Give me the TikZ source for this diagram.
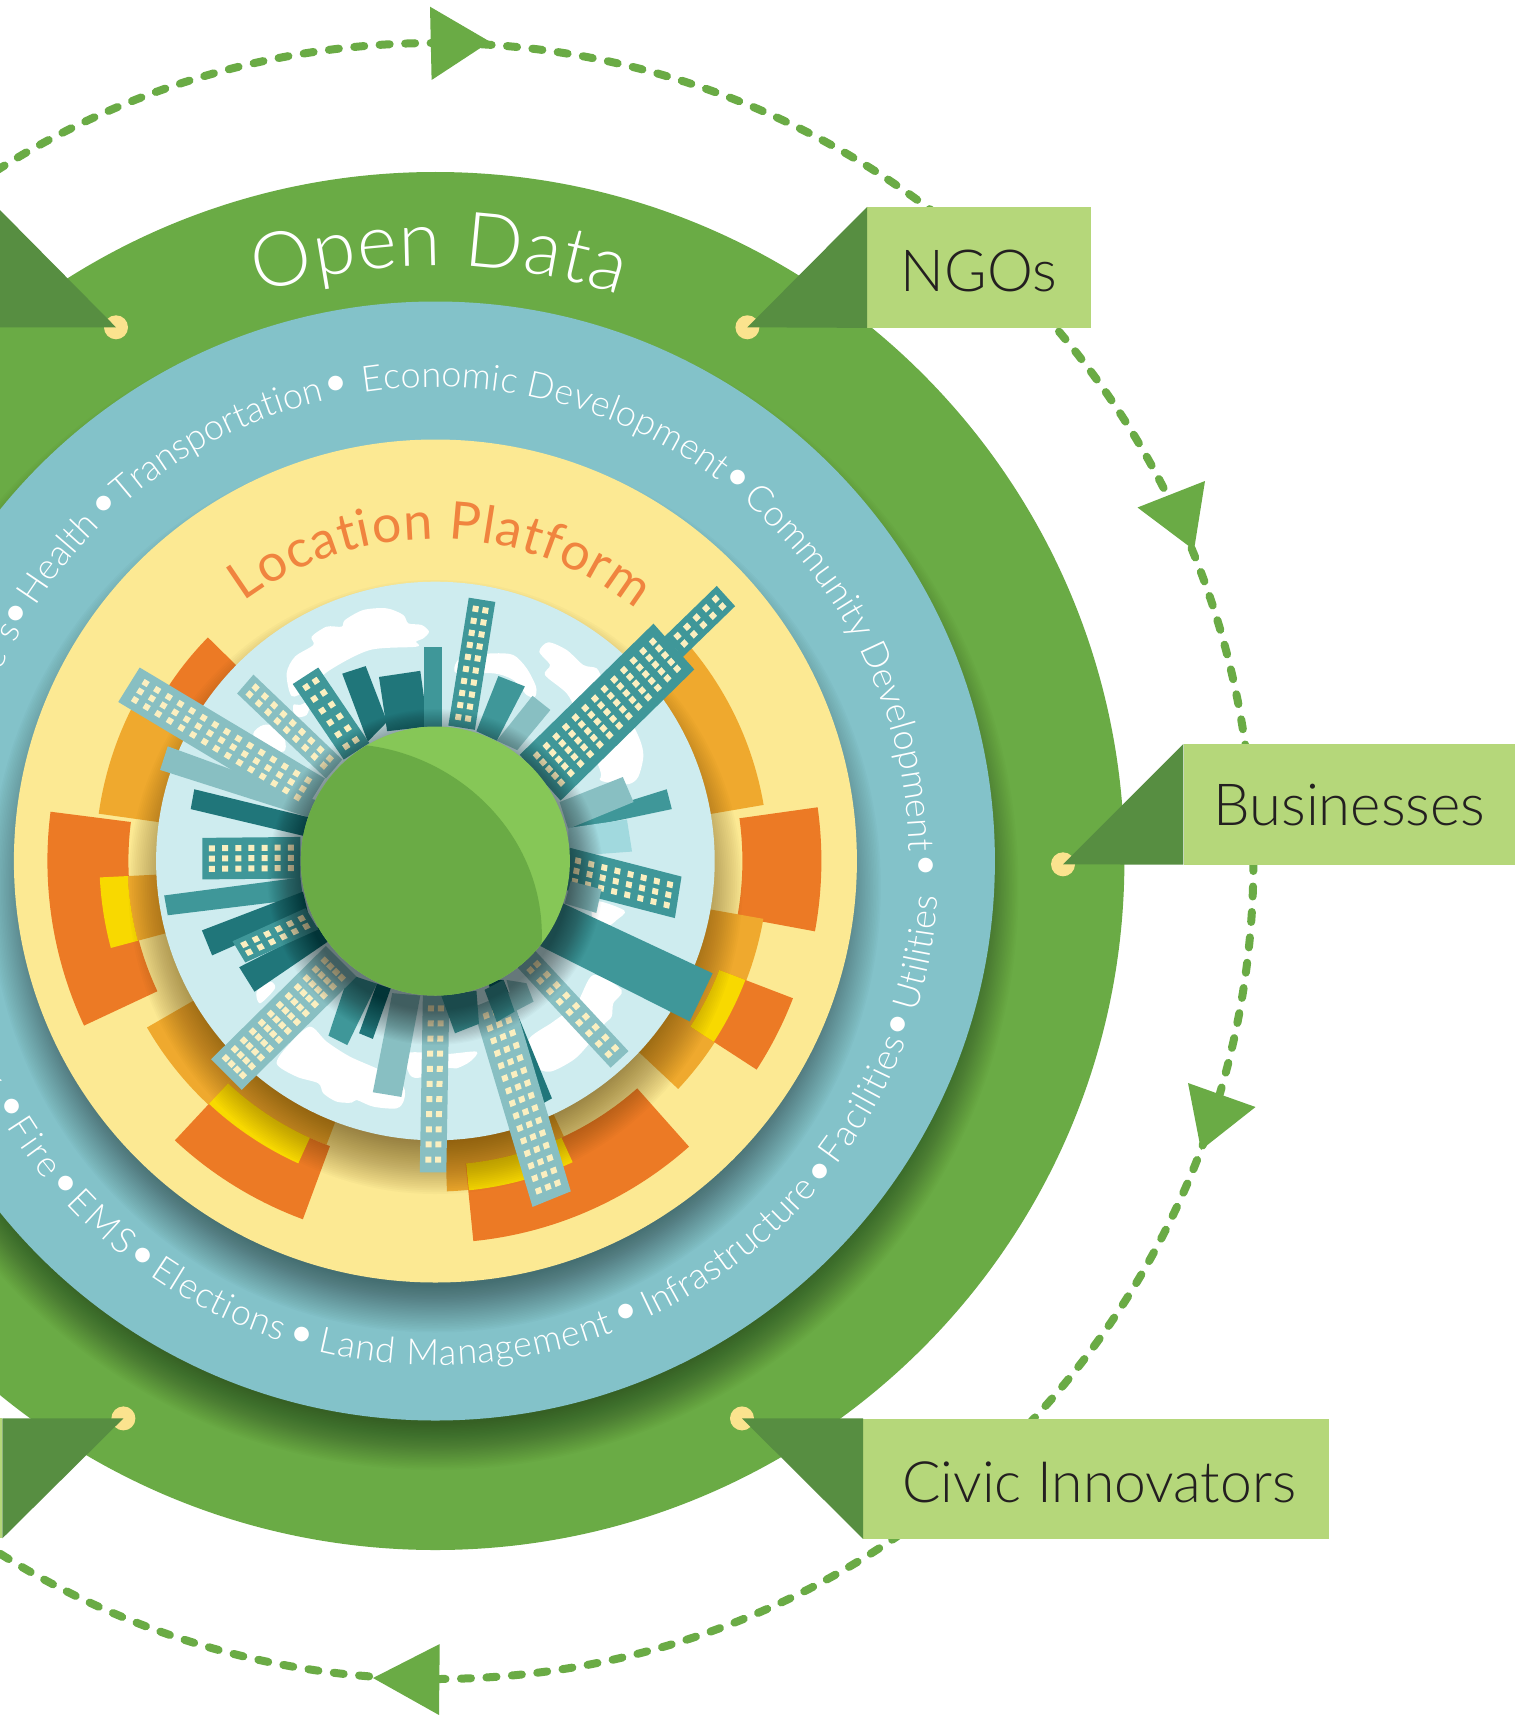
\documentclass[tikz,border=0pt]{standalone}
\usepackage{fontspec}
\setmainfont{Lato Light}
\newfontfamily\lreg{Lato}
\usetikzlibrary{decorations.text,calc}
\definecolor{ringg}{HTML}{6AAB45}
\definecolor{boxg}{HTML}{B5D77A}
\definecolor{darkg}{HTML}{578E41}
\definecolor{blue1}{HTML}{83C2C9}
\definecolor{yel1}{HTML}{FCE993}
\definecolor{dotc}{HTML}{FBE38E}
\definecolor{sky1}{HTML}{CEECEF}
\definecolor{plant}{HTML}{86C757}
\definecolor{org}{HTML}{EC7A25}
\definecolor{amb}{HTML}{EFA92E}
\definecolor{gold}{HTML}{F8D900}
\definecolor{orgtxt}{HTML}{F0843F}
\definecolor{tdk}{HTML}{20767A}
\definecolor{tmid}{HTML}{3F9799}
\definecolor{tlt}{HTML}{88BFC2}
\definecolor{tpale}{HTML}{A1D9DE}
\definecolor{winc}{HTML}{FBEFC0}
\definecolor{inkc}{HTML}{231F20}
\definecolor{shbrown}{HTML}{4A2E00}
\tikzset{
 ringdash/.style={draw=ringg,line width=8pt,line cap=round,dash pattern=on 10pt off 15.5pt},
 headg/.style={fill=ringg},
 tailg/.style={fill=darkg},
 lblbox/.style={fill=boxg,inner sep=0pt,anchor=north west,text=inkc,font=\fontsize{58}{62}\selectfont},
 buldot/.style={inner sep=0pt,text=white,yshift=-5pt,font=\fontsize{50}{50}\selectfont},
 fragtxt/.style={inner sep=0pt,text=white,font=\fontsize{36}{36}\selectfont},
 zoomone/.style={shift={(30,500)},xscale=.5102,yscale=.4719},
 cloudw/.style={fill=white}
}
% r, dy, spread, colour, opacity
\newcommand\softshadow[5]{\foreach \kk in {0,...,29}{\fill[#4,opacity=#5] (0,-#2) circle[radius=#1+#3-\kk*#3/15];}}
% colour r0 r1 a0 a1
\newcommand\seg[5]{\fill[#1] (#4:#2) arc[start angle=#4,end angle=#5,radius=#2] -- (#5:#3) arc[start angle=#5,end angle=#4,radius=#3] -- cycle;}
% radius a0 a1 size colour text
\newcommand\arctext[6]{\path[decorate,decoration={text along path,text align={fit to path},text={|\fontsize{#4}{#4}\selectfont\color{#5}|#6}}] (#2:#1) arc[start angle=#2,end angle=#3,radius=#1];}
% ax ay bx by dx dy colour across along  (zoom coordinates)
\newcommand\Tw[9]{%
 \pgfmathsetmacro\Ax{30+#1*.5102}\pgfmathsetmacro\Ay{500+#2*.4719}%
 \pgfmathsetmacro\Ux{(#3-#1)*.5102}\pgfmathsetmacro\Uy{(#4-#2)*.4719}%
 \pgfmathsetmacro\Vx{(#5-#1)*.5102}\pgfmathsetmacro\Vy{(#6-#2)*.4719}%
 \fill[#7] (\Ax,\Ay) -- ++(\Ux,\Uy) -- ++(\Vx,\Vy) -- ++(-\Ux,-\Uy) -- cycle;
 \pgfmathsetmacro\du{3/veclen(\Ux,\Uy)}\pgfmathsetmacro\dv{3/veclen(\Vx,\Vy)}%
 \foreach \ii in {1,...,#8}{\foreach \jj in {1,...,#9}{%
  \pgfmathsetmacro\uu{.13+.74*(\ii-.5)/#8}\pgfmathsetmacro\vv{.03+.94*(\jj-.5)/#9}%
  \pgfmathsetmacro\Pa{\Ax+(\uu-\du)*\Ux+(\vv-\dv)*\Vx}\pgfmathsetmacro\Qa{\Ay+(\uu-\du)*\Uy+(\vv-\dv)*\Vy}%
  \pgfmathsetmacro\Pb{\Ax+(\uu+\du)*\Ux+(\vv-\dv)*\Vx}\pgfmathsetmacro\Qb{\Ay+(\uu+\du)*\Uy+(\vv-\dv)*\Vy}%
  \pgfmathsetmacro\Pc{\Ax+(\uu+\du)*\Ux+(\vv+\dv)*\Vx}\pgfmathsetmacro\Qc{\Ay+(\uu+\du)*\Uy+(\vv+\dv)*\Vy}%
  \pgfmathsetmacro\Pd{\Ax+(\uu-\du)*\Ux+(\vv+\dv)*\Vx}\pgfmathsetmacro\Qd{\Ay+(\uu-\du)*\Uy+(\vv+\dv)*\Vy}%
  \fill[winc] (\Pa,\Qa)--(\Pb,\Qb)--(\Pc,\Qc)--(\Pd,\Qd)--cycle;
 }}%
}
\begin{document}
\begin{tikzpicture}[x=1pt,y=-1pt]
\clip (0,0) rectangle (1529,1715);
\fill[white] (0,0) rectangle (1529,1715);
\coordinate (C) at (435.4,861);
% dashed ring and its arrowheads
\draw[ringdash] (C) circle[radius=818];
\fill[headg] (430,6.7)--(431.6,80)--(490,41.7)--cycle;
\fill[headg] (1137.5,507.5)--(1205,481)--(1194,550)--cycle;
\fill[headg] (1188,1083)--(1255.5,1107)--(1201,1150)--cycle;
\fill[headg] (439.7,1644)--(439,1715)--(373,1678)--cycle;

\begin{scope}[shift={(C)},y=1pt]
 \fill[ringg] (0,0) circle[radius=689];
 \softshadow{559}{26}{24}{black}{.015}
 \fill[blue1] (0,0) circle[radius=559.5];
 \softshadow{421.5}{26}{24}{black}{.017}
 \fill[yel1] (0,0) circle[radius=421.5];
 % arcs
 \seg{amb}{270}{333}{9.7}{41.5}
 \seg{org}{307}{386}{8}{-10.5}
 \seg{amb}{270}{333}{-10}{-43.2}
 \seg{org}{304}{383}{-33}{-21}
 \seg{gold}{304}{332}{-33}{-21}
 \seg{amb}{270}{304}{-88}{-65}
 \seg{amb}{270}{330.5}{-88}{-84.2}
 \seg{org}{304}{382}{-84.3}{-48.4}
 \seg{gold}{304}{331}{-84.2}{-65.5}
 \seg{amb}{270}{333}{210}{227}
 \seg{amb}{270}{304}{227}{249}
 \seg{org}{304}{382}{227}{249.7}
 \seg{gold}{304}{332}{227}{245.6}
 \seg{org}{307}{388}{172.7}{205.1}
 \seg{amb}{270}{308}{182.8}{195}
 \seg{gold}{308}{336}{182.8}{195}
 \seg{amb}{270}{340}{150}{172}
 \seg{org}{270}{319}{135.5}{150}
 \softshadow{279}{26}{28}{shbrown}{.025}
 \fill[sky1] (0,0) circle[radius=279.3];
\end{scope}

% clouds
\begin{scope}
 \clip (C) circle[radius=279];
 \begin{scope}[shift={(230,590)},scale=.3333]
  \fill[cloudw] plot[smooth cycle,tension=.5] coordinates {(185,318)(170,250)(195,200)(250,165)(245,140)(290,110)(335,110)(345,90)(400,60)(470,55)(520,75)(535,100)(575,105)(597,125)(580,145)(558,155)(560,170)(420,180)(300,240)(230,300)};
  \fill[cloudw] plot[smooth cycle,tension=.5] coordinates {(70,430)(100,405)(140,410)(165,450)(160,485)(90,470)};
  \fill[cloudw] plot[smooth cycle,tension=.5] coordinates {(190,345)(210,345)(240,335)(230,375)(195,380)};
 \end{scope}
 \begin{scope}[shift={(500,580)},scale=.3333]
  \fill[cloudw] plot[smooth cycle,tension=.5] coordinates {(118,215)(145,187)(200,210)(250,255)(290,265)(310,300)(380,400)(420,480)(430,530)(415,590)(388,612)(340,610)(300,600)(300,570)(230,400)(200,340)(135,285)(150,255)};
  \fill[cloudw] plot[smooth cycle,tension=.5] coordinates {(-130,245)(-100,228)(-20,220)(40,225)(80,265)(108,320)(105,350)(80,345)(40,300)(-20,280)(-130,280)};
 \end{scope}
 \begin{scope}[shift={(240,960)},scale=.3333]
  \fill[cloudw] plot[smooth cycle,tension=.5] coordinates {(50,95)(60,130)(105,85)(90,65)};
  \fill[cloudw] plot[smooth cycle,tension=.5] coordinates {(110,310)(170,350)(235,370)(250,400)(290,425)(335,428)(350,420)(400,440)(470,445)(492,420)(490,380)(430,335)(330,290)(260,245)(210,200)(150,250)};
  \fill[cloudw] plot[smooth cycle,tension=.5] coordinates {(500,280)(510,345)(545,352)(620,325)(650,325)(690,305)(710,275)(620,282)};
  \fill[cloudw] plot[smooth cycle,tension=.5] coordinates {(1060,45)(1145,90)(1120,130)(1115,170)(1090,195)(1040,260)(1000,300)(930,335)(880,315)(865,240)(940,185)(1010,130)};
 \end{scope}
 \begin{scope}[zoomone]
  \fill[cloudw] plot[smooth cycle,tension=.5] coordinates {(1105,850)(1165,870)(1150,890)(1130,905)(1105,900)};
 \end{scope}
\end{scope}

% plain towers
\begin{scope}[zoomone]
 \fill[tdk] (612,368)--(658,352)--(700,470)--(662,512)--cycle;
 \fill[tdk] (684,375)--(765,362)--(780,480)--(700,490)--cycle;
 \fill[tmid] (772,312)--(808,312)--(808,480)--(772,480)--cycle;
 \fill[tlt] (985,415)--(1020,445)--(955,530)--(915,510)--cycle;
 \fill[tmid] (918,373)--(970,395)--(915,510)--(875,490)--cycle;
 \fill[tmid] (1248,613)--(1258,655)--(1060,700)--(1050,680)--cycle;
 \fill[tlt] (1162,587)--(1183,640)--(1055,697)--(1038,640)--cycle;
 \fill[tpale] (1170,677)--(1180,745)--(1055,755)--(1055,695)--cycle;
 \fill[tlt] (270,522)--(570,640)--(545,672)--(255,572)--cycle;
 \fill[tdk] (322,613)--(545,672)--(537,712)--(315,655)--cycle;
 \fill[tmid] (263,838)--(530,800)--(535,845)--(270,880)--cycle;
 \fill[tdk] (337,912)--(535,830)--(545,875)--(357,965)--cycle;
 \fill[tdk] (410,990)--(565,905)--(585,935)--(440,1042)--cycle;
 \fill[tmid] (625,1005)--(680,1025)--(622,1155)--(585,1135)--cycle;
 \fill[tdk] (680,1025)--(707,1035)--(672,1142)--(645,1130)--cycle;
 \fill[tlt] (710,1045)--(765,1050)--(728,1265)--(672,1255)--cycle;
 \fill[tdk] (895,1017)--(928,1017)--(1023,1268)--(1000,1282)--cycle;
 \fill[tlt] (934,1017)--(973,1024)--(987,1063)--(950,1084)--cycle;
\end{scope}
% towers with windows
\Tw{820}{478}{872}{487}{860}{207}{tmid}{2}{10}
\Tw{1207}{328}{1243}{371}{1346}{182}{tmid}{2}{7}
\Tw{960}{540}{1040}{637}{1222}{262}{tmid}{5}{13}
\Tw{1058}{737}{1045}{825}{1277}{798}{tmid}{3}{8}
\Tw{530}{714}{530}{802}{338}{716}{tmid}{3}{7}
\Tw{540}{865}{565}{910}{397}{935}{tmid}{2}{6}
\Tw{612}{550}{580}{590}{438}{370}{tlt}{2}{9}
\Tw{665}{515}{615}{550}{565}{355}{tmid}{2}{6}
\Tw{578}{590}{536}{663}{215}{355}{tlt}{3}{15}
\Tw{580}{945}{640}{1010}{355}{1185}{tlt}{4}{12}
\Tw{770}{1050}{822}{1050}{764}{1425}{tlt}{2}{11}
\Tw{990}{955}{955}{990}{1173}{1168}{tlt}{2}{9}
\Tw{868}{1075}{943}{1042}{985}{1498}{tlt}{3}{15}
\begin{scope}[zoomone]
 \fill[tmid] (891,1038)--(928,1017)--(950,1084)--(915,1106)--cycle;
 \fill[tmid] (806,1050)--(875,1040)--(880,1110)--(833,1130)--cycle;
 \fill[tlt] (1060,808)--(1120,825)--(1110,875)--(1048,855)--cycle;
 \fill[tmid] (1045,855)--(1338,1003)--(1293,1105)--(1000,945)--cycle;
\end{scope}

% planet
\begin{scope}[shift={(C)},y=1pt]
 \softshadow{150}{16}{18}{black}{.02}
 \fill[plant] (0,0) circle[radius=134.5];
\end{scope}
\begin{scope}
 \clip (C) circle[radius=134.5];
 \begin{scope}[zoomone]
  \fill[ringg] (660,520) .. controls (850,545) and (1010,720) .. (1003,935) -- (1000,1100) -- (400,1100) -- (400,500) -- cycle;
 \end{scope}
\end{scope}

% curved texts
\begin{scope}[shift={(C)},y=1pt]
 \arctext{595}{107.3}{72}{76}{white}{Open Data}
 \arctext{322}{126.5}{51.5}{52}{orgtxt}{|\lreg\fontsize{52}{52}\selectfont\color{orgtxt}|Location Platform}
 \arctext{474}{156.4}{150.8}{36}{white}{es}
 \arctext{474}{147.5}{135}{36}{white}{Health}
 \arctext{474}{131.2}{104}{36}{white}{Transportation}
 \arctext{474}{98.75}{53.3}{36}{white}{Economic Development}
 \arctext{474}{49.6}{1.5}{36}{white}{Community Development}
 \arctext{504}{-17.5}{-4}{36}{white}{Utilities}
 \arctext{504}{-37.2}{-20.9}{36}{white}{Facilities}
 \arctext{504}{-65}{-40.6}{36}{white}{Infrastructure}
 \arctext{504}{-103.5}{-69.2}{36}{white}{Land Management}
 \arctext{504}{-124.6}{-107.8}{36}{white}{Elections}
 \arctext{504}{-137.2}{-128.2}{36}{white}{EMS}
 \arctext{504}{-148.2}{-140.7}{36}{white}{Fire}
 \node[fragtxt,anchor=base,rotate=-64] (yfrag) at (-154:504) {y};
 \node[buldot] (b1) at (149.3:488) {•};
 \node[buldot] (b2) at (132.7:488) {•};
 \node[buldot] (b3) at (101.7:489) {•};
 \node[buldot] (b4) at (51.8:490) {•};
 \node[buldot] (b5) at (-0.4:491) {•};
 \node[buldot] (b6) at (-19.3:490) {•};
 \node[buldot] (b7) at (-38.8:493) {•};
 \node[buldot] (b8) at (-67:488) {•};
 \node[buldot] (b9) at (-105.8:491) {•};
 \node[buldot] (b10) at (-126.7:490) {•};
 \node[buldot] (b11) at (-139:490) {•};
 \node[buldot] (b12) at (-150:489) {•};
\end{scope}

% dots
\coordinate (d1) at (116,327.3);
\coordinate (d2) at (747.4,327.3);
\coordinate (d3) at (1063,864.3);
\coordinate (d4) at (123.4,1418.4);
\coordinate (d5) at (742,1418.4);
\foreach \dd in {d1,d2,d3,d4,d5}{\fill[dotc] (\dd) circle[radius=12];}

% label boxes
\node[lblbox,minimum width=223.5pt,minimum height=120.5pt,text height=48pt,text depth=0pt] (ngo) at (867,207) {NGOs};
\node[lblbox,minimum width=331.4pt,minimum height=120.3pt,text height=42pt,text depth=0pt] (bus) at (1183.4,744) {Businesses};
\node[lblbox,minimum width=466pt,minimum height=120pt,text height=48pt,text depth=0pt,font=\fontsize{57}{62}\selectfont] (civ) at (863,1418.4) {\hspace{6pt}Civic Innovators};
\fill[boxg] (0,1418.4) rectangle (2.3,1538.4);
% tails
\fill[tailg] (ngo.north west) -- (ngo.south west) -- (d2) -- cycle;
\fill[tailg] (bus.north west) -- (bus.south west) -- (d3) -- cycle;
\fill[tailg] (civ.north west) -- (civ.south west) -- (d5) -- cycle;
\fill[tailg] (2.3,1418.4) -- (2.3,1538.4) -- (d4) -- cycle;
\fill[tailg] (-5,205) -- (d1) -- (-5,327.3) -- cycle;
\end{tikzpicture}
\end{document}
